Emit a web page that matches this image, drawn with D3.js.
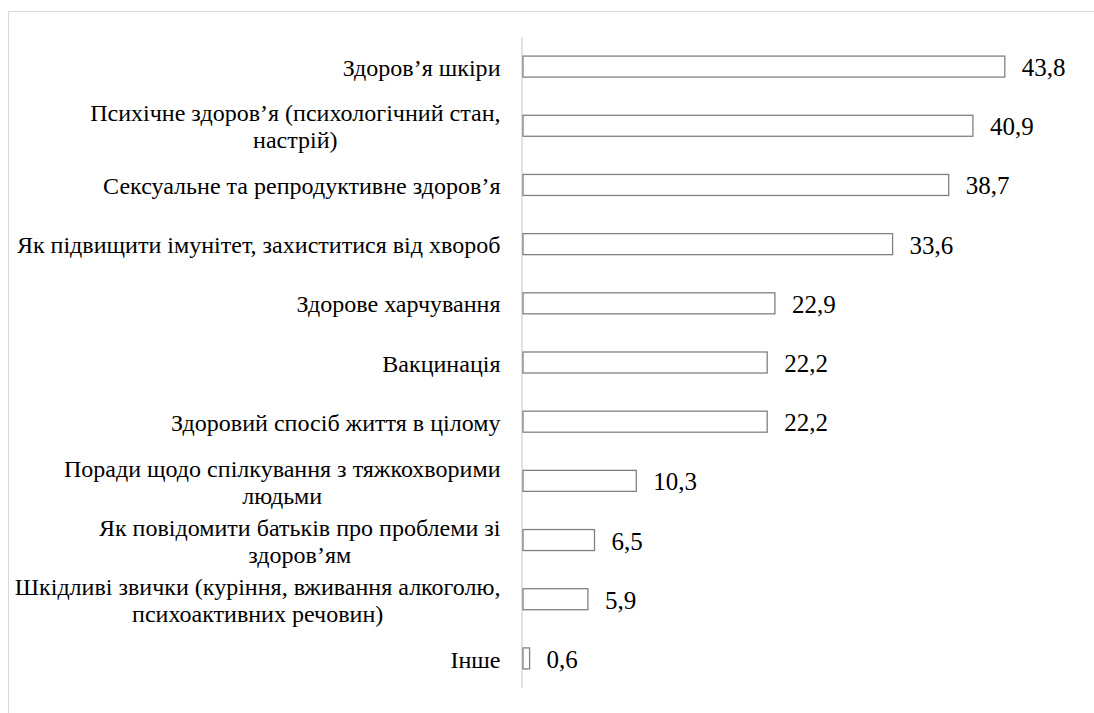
<!DOCTYPE html>
<html><head><meta charset="utf-8"><script src="https://cdn.jsdelivr.net/npm/d3@7"></script></head>
<body style="margin:0">
<svg id="chart" width="1094" height="713"></svg>
<script>
const categories = [
  "Здоров’я шкіри",
  "Психічне здоров’я (психологічний стан,\nнастрій)",
  "Сексуальне та репродуктивне здоров’я",
  "Як підвищити імунітет, захиститися від хвороб",
  "Здорове харчування",
  "Вакцинація",
  "Здоровий спосіб життя в цілому",
  "Поради щодо спілкування з тяжкохворими\nлюдьми",
  "Як повідомити батьків про проблеми зі\nздоров’ям",
  "Шкідливі звички (куріння, вживання алкоголю,\nпсихоактивних речовин)",
  "Інше"
];
const values = [43.8, 40.9, 38.7, 33.6, 22.9, 22.2, 22.2, 10.3, 6.5, 5.9, 0.6];
const valueLabels = ["43,8", "40,9", "38,7", "33,6", "22,9", "22,2", "22,2", "10,3", "6,5", "5,9", "0,6"];

const FONT = '"Times New Roman", Tinos, "Liberation Serif", serif';
const svg = d3.select("#chart");

// outer frame
svg.append("rect")
  .attr("x", 8.5).attr("y", 11.5)
  .attr("width", 1200).attr("height", 800)
  .attr("fill", "none").attr("stroke", "#d9d9d9").attr("stroke-width", 1);

const x = d3.scaleLinear().domain([0, 50]).range([523, 1073]);
const y = d3.scaleBand()
  .domain(d3.range(categories.length))
  .range([37, 688])
  .paddingInner(0.645)
  .paddingOuter(0.3225);

// category axis line
svg.append("line")
  .attr("x1", x(0) - 1).attr("x2", x(0) - 1)
  .attr("y1", y.range()[0]).attr("y2", y.range()[1])
  .attr("stroke", "#d9d9d9").attr("stroke-width", 1.5);

// bars
svg.selectAll("rect.bar")
  .data(values)
  .join("rect")
  .attr("class", "bar")
  .attr("x", x(0))
  .attr("y", (d, i) => y(i))
  .attr("width", d => x(d) - x(0))
  .attr("height", y.bandwidth())
  .attr("fill", "#ffffff")
  .attr("stroke", "#808080")
  .attr("stroke-width", 1.3);

// fit font size to the available label width (whatever font is rendered)
function measure(str, size) {
  const t = svg.append("text").attr("font-size", size).style("font-family", FONT).text(str);
  const w = t.node().getComputedTextLength();
  t.remove();
  return w;
}
const widest = d3.max(categories.flatMap(c => c.split("\n")), s => measure(s, 25));
const fs = Math.min(25, 25 * 486 / widest);
const vfs = Math.min(25, 25 * 44 / measure("43,8", 25));
const lh = 27;
const labelRight = 500.5;

// category labels
categories.forEach((d, i) => {
  const lines = d.split("\n");
  const cy = y(i) + y.bandwidth() / 2;
  const y0 = cy - (lines.length - 1) * lh / 2 + 0.38 * fs;
  const texts = lines.map((ln, k) =>
    svg.append("text")
      .attr("y", y0 + k * lh)
      .attr("text-anchor", "middle")
      .attr("font-size", fs)
      .style("font-family", FONT)
      .text(ln)
  );
  const maxW = d3.max(texts, t => t.node().getComputedTextLength());
  texts.forEach(t => t.attr("x", labelRight - maxW / 2));
});

// value labels
values.forEach((d, i) => {
  svg.append("text")
    .attr("x", x(d) + 17)
    .attr("y", y(i) + y.bandwidth() / 2 + 0.38 * vfs)
    .attr("font-size", vfs)
    .style("font-family", FONT)
    .text(valueLabels[i]);
});
</script>
</body>
</html>
